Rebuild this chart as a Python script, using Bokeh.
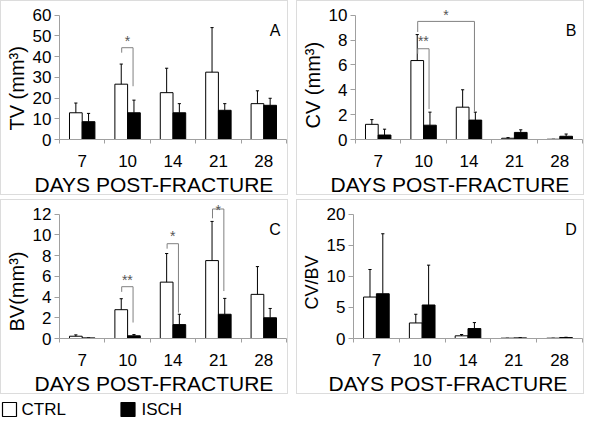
from bokeh.plotting import figure
from bokeh.models import Range1d, FixedTicker, Title
from bokeh.layouts import column, row
from bokeh.embed import file_html
from bokeh.resources import INLINE
from bokeh.core.properties import value

days = ["7", "10", "14", "21", "28"]

# Panel A: TV (mm3)
tv_ctrl = [12.9, 26.7, 22.6, 32.5, 17.3]
tv_ctrl_sd = [4.7, 9.7, 11.8, 21.5, 6.2]
tv_isch = [8.6, 12.9, 12.9, 14.1, 16.5]
tv_isch_sd = [4.0, 6.1, 4.4, 3.2, 3.4]

# Panel B: CV (mm3)
cv_ctrl = [1.22, 6.35, 2.6, 0.1, 0.02]
cv_ctrl_sd = [0.38, 2.09, 1.4, 0.05, 0.0]
cv_isch = [0.36, 1.15, 1.56, 0.57, 0.26]
cv_isch_sd = [0.47, 1.05, 0.64, 0.21, 0.18]

# Panel C: BV (mm3)
bv_ctrl = [0.22, 2.78, 5.44, 7.52, 4.26]
bv_ctrl_sd = [0.13, 1.06, 2.76, 3.78, 2.68]
bv_isch = [0.06, 0.26, 1.34, 2.34, 2.0]
bv_isch_sd = [0.0, 0.12, 1.0, 1.53, 0.9]

# Panel D: CV/BV
cvbv_ctrl = [6.67, 2.5, 0.43, 0.05, 0.05]
cvbv_ctrl_sd = [4.43, 1.4, 0.21, 0.0, 0.0]
cvbv_isch = [7.2, 5.39, 1.6, 0.1, 0.15]
cvbv_isch_sd = [9.65, 6.41, 0.96, 0.03, 0.05]

# significance brackets: category of left leg (CTRL), category of right leg (ISCH),
# bracket top, left leg end, right leg end, label, label height
a_br_from = [1]
a_br_to = [1]
a_br_top = [44.3]
a_br_left = [41.9]
a_br_right = [25.7]
a_br_text = ["*"]
a_br_ty = [49.3]

b_br_from = [1, 1]
b_br_to = [1, 2]
b_br_top = [7.3, 9.5]
b_br_left = [6.9, 8.65]
b_br_right = [2.45, 2.27]
b_br_text = ["**", "*"]
b_br_ty = [8.25, 10.3]

c_br_from = [1, 2, 3]
c_br_to = [1, 2, 3]
c_br_top = [5.0, 9.15, 12.5]
c_br_left = [4.5, 8.67, 11.6]
c_br_right = [1.54, 2.5, 4.58]
c_br_text = ["**", "*", "*"]
c_br_ty = [6.0, 10.3, 12.8]

groups = ["CTRL", "ISCH"]

FONT = "Liberation Sans"
AXIS_GRAY = "#a0a0a0"
OFF = 0.14
BW = 0.28


def panel(letter, ylabel, ylabel_size, ylabel_lift, ytop, ystep,
          ctrl, ctrl_sd, isch, isch_sd, br):
    p = figure(width=288, height=195, x_range=Range1d(-0.5, 4.5),
               y_range=Range1d(0, ytop * 1.11),
               output_backend="svg", toolbar_location=None,
               min_border_left=53, min_border_right=3, min_border_top=0,
               min_border_bottom=56,
               styles={"border": "1px solid #dcdcdc", "box-sizing": "border-box"})
    p.outline_line_color = None
    p.grid.visible = False
    p.background_fill_color = "white"

    idx = list(range(len(days)))
    xc = [i - OFF for i in idx]
    xi = [i + OFF for i in idx]

    p.vbar(x=xc, top=ctrl, width=BW, fill_color="white", line_color="black", line_width=1)
    p.vbar(x=xi, top=isch, width=BW, fill_color="black", line_color="black", line_width=1)

    for xs, m, sd in ((xc, ctrl, ctrl_sd), (xi, isch, isch_sd)):
        hi = [a + b for a, b in zip(m, sd)]
        p.segment(x0=xs, y0=m, x1=xs, y1=hi, line_color="black", line_width=1)
        p.segment(x0=[x - 0.035 for x in xs], y0=hi, x1=[x + 0.035 for x in xs], y1=hi,
                  line_color="black", line_width=1)

    if br is not None:
        bf, bt, top, left, right, txt, ty = br
        xs_list, ys_list, tx = [], [], []
        for f, t, tp, l, r in zip(bf, bt, top, left, right):
            x0 = f - 0.13
            x1 = t + 0.12
            xs_list.append([x0, x0, x1, x1])
            ys_list.append([l, tp, tp, r])
            tx.append((x0 + x1) / 2)
        p.multi_line(xs=xs_list, ys=ys_list, line_color="#808080", line_width=1)
        p.text(x=tx, y=ty, text=txt, text_align="center", text_baseline="middle",
               y_offset=4, text_font=value(FONT), text_font_size="14px",
               text_color="#555555")

    p.text(x=[4.25], y=[ytop * 0.875], text=[letter], text_align="center",
           text_baseline="alphabetic", text_font=value(FONT), text_font_size="16px",
           text_color="black")

    ya = p.yaxis[0]
    ya.ticker = FixedTicker(ticks=list(range(0, ytop + 1, ystep)))
    ya.bounds = (0, ytop)
    ya.axis_line_color = AXIS_GRAY
    ya.major_tick_line_color = AXIS_GRAY
    ya.major_tick_out = 5
    ya.major_tick_in = 0
    ya.minor_tick_line_color = None
    ya.major_label_standoff = 3
    ya.major_label_text_font = FONT
    ya.major_label_text_font_size = "17px"
    ya.major_label_text_color = "black"

    # rotated y label, its start lifted a little above the x axis as in the reference
    yt = Title(text=ylabel, align="left", offset=ylabel_lift, standoff=4,
               text_font=FONT, text_font_size=f"{ylabel_size}px",
               text_font_style="normal", text_color="black")
    p.add_layout(yt, "left")

    xa = p.xaxis[0]
    xa.ticker = FixedTicker(ticks=idx, minor_ticks=[i - 0.5 for i in range(len(days) + 1)])
    xa.major_label_overrides = {i: d for i, d in enumerate(days)}
    xa.axis_line_color = AXIS_GRAY
    xa.major_tick_line_color = None
    xa.major_tick_out = 0
    xa.major_tick_in = 0
    xa.minor_tick_line_color = AXIS_GRAY
    xa.minor_tick_out = 4
    xa.minor_tick_in = 0
    xa.major_label_standoff = 11
    xa.major_label_text_font = FONT
    xa.major_label_text_font_size = "17px"
    xa.major_label_text_color = "black"

    t = Title(text="DAYS POST-FRACTURE", align="left", offset=-25, standoff=2,
              text_font=FONT, text_font_size="21px", text_font_style="normal",
              text_color="black")
    p.add_layout(t, "below")
    return p


pA = panel("A", "TV (mm³)", 20, 9, 60, 10, tv_ctrl, tv_ctrl_sd, tv_isch, tv_isch_sd,
           (a_br_from, a_br_to, a_br_top, a_br_left, a_br_right, a_br_text, a_br_ty))
pB = panel("B", "CV (mm³)", 20, 11, 10, 2, cv_ctrl, cv_ctrl_sd, cv_isch, cv_isch_sd,
           (b_br_from, b_br_to, b_br_top, b_br_left, b_br_right, b_br_text, b_br_ty))
pC = panel("C", "BV(mm³)", 20, 7, 12, 2, bv_ctrl, bv_ctrl_sd, bv_isch, bv_isch_sd,
           (c_br_from, c_br_to, c_br_top, c_br_left, c_br_right, c_br_text, c_br_ty))
pD = panel("D", "CV/BV", 18, 29, 20, 5, cvbv_ctrl, cvbv_ctrl_sd, cvbv_isch, cvbv_isch_sd,
           None)

# legend strip drawn in a pixel-like space (swatch + label for each group)
lg = figure(width=584, height=20, output_backend="svg", toolbar_location=None,
            x_range=Range1d(0, 584), y_range=Range1d(0, 20),
            x_axis_location=None, y_axis_location=None,
            min_border=0)
lg.grid.visible = False
lg.outline_line_color = None
SW_X = [9, 127.5]
LB_X = [21, 141]
lg.scatter(x=SW_X, y=[9, 9], marker="square", size=14,
           fill_color=["white", "black"], line_color="black", line_width=1.2)
lg.text(x=LB_X, y=[9, 9], text=groups, text_baseline="middle", text_align="left",
        text_font=value(FONT), text_font_size="17px", text_color="black")

layout = column(row(pA, pB, spacing=8), row(pC, pD, spacing=8), lg, spacing=4)

open("out.html", "w").write(file_html(layout, INLINE))
